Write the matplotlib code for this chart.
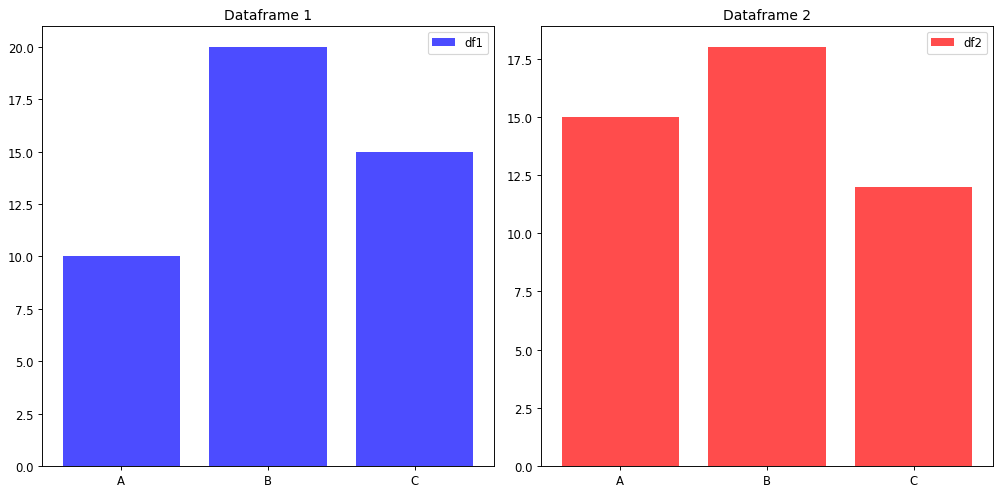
import matplotlib
matplotlib.use("Agg")
import matplotlib.pyplot as plt

categories = ["A", "B", "C"]
df1_values = [10, 20, 15]
df2_values = [15, 18, 12]

dpi = 1000 / 12
fig, axes = plt.subplots(1, 2, figsize=(12, 496 / dpi), dpi=dpi)

axes[0].bar(categories, df1_values, color="blue", alpha=0.7, label="df1")
axes[0].set_title("Dataframe 1")
axes[0].legend(loc="upper right")

axes[1].bar(categories, df2_values, color="red", alpha=0.7, label="df2")
axes[1].set_title("Dataframe 2")
axes[1].legend(loc="upper right")

fig.subplots_adjust(left=0.042, right=0.993, top=1 - 27 / 496, bottom=1 - 467 / 496, wspace=0.104)
fig.savefig("out.png", dpi=dpi)
